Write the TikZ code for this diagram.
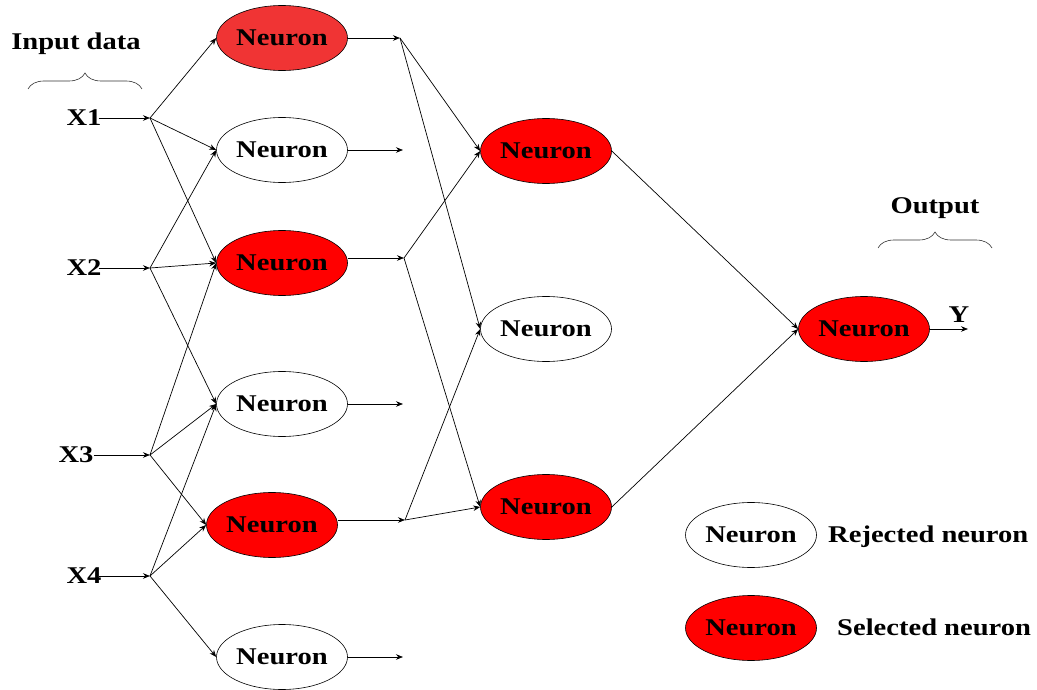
\documentclass[tikz,border=0pt]{standalone}
\usepackage{fontspec}
\setmainfont{Liberation Serif}[FakeStretch=1.19]
\usetikzlibrary{shapes.geometric,arrows.meta,decorations.pathreplacing}
\definecolor{selred}{RGB}{255,0,0}
\definecolor{selredlight}{RGB}{240,52,52}
\tikzset{
  neuron/.style={ellipse, draw=black, line width=0.6pt, minimum width=131pt, minimum height=65pt, inner sep=0pt,
     font=\fontsize{24pt}{28pt}\selectfont\bfseries},
  rejected/.style={neuron, fill=white},
  selected/.style={neuron, fill=selred},
  lbl/.style={inner sep=0pt, font=\fontsize{24pt}{28pt}\selectfont\bfseries},
  conn/.style={line width=0.7pt, -{Stealth[length=7pt,width=5.5pt]}},
  bracestyle/.style={line width=0.6pt, draw=black!80, decorate, decoration={brace, amplitude=16pt}}
}
\begin{document}
\begin{tikzpicture}[x=1pt,y=-1pt]
\useasboundingbox (0,0) rectangle (1037,690);
% inputs
\node[lbl] (X1) at (84,118) {X1};
\node[lbl] (X2) at (84,268) {X2};
\node[lbl] (X3) at (76,455) {X3};
\node[lbl] (X4) at (84,576) {X4};
\coordinate (J1) at (150,118);
\coordinate (J2) at (150,268);
\coordinate (J3) at (150,455);
\coordinate (J4) at (150,576);
\node[lbl] (inlbl) at (76,44) {Input data};
\coordinate (ib1) at (28,89);
\coordinate (ib2) at (142,89);
\draw[bracestyle] (ib1) -- (ib2);
% hidden layer 1
\node[neuron, fill=selredlight] (N1) at (282,38) {Neuron};
\node[rejected] (N2) at (282,150) {Neuron};
\node[selected] (N3) at (282,263) {Neuron};
\node[rejected] (N4) at (282,404) {Neuron};
\node[selected] (N5) at (272,525) {Neuron};
\node[rejected] (N6) at (282,657) {Neuron};
% hidden layer 2
\node[selected] (M1) at (546,151) {Neuron};
\node[rejected] (M2) at (546,329) {Neuron};
\node[selected] (M3) at (546,507) {Neuron};
% output
\node[selected] (O) at (864,329) {Neuron};
\coordinate (Yend) at (968,329);
\node[lbl] (Y) at (959,315) {Y};
\node[lbl] (outlbl) at (935,208) {Output};
\coordinate (ob1) at (878,248);
\coordinate (ob2) at (992,248);
\draw[bracestyle] (ob1) -- (ob2);
% legend
\node[rejected] (L1) at (751,535) {Neuron};
\node[lbl, anchor=west] (L1t) at (828,537) {Rejected neuron};
\node[selected] (L2) at (751,628) {Neuron};
\node[lbl, anchor=west] (L2t) at (837,627) {Selected neuron};
% junctions after layer 1
\coordinate (K1) at (400,38);
\coordinate (K2) at (403,150);
\coordinate (K3) at (404,258);
\coordinate (K4) at (403,404);
\coordinate (K5) at (405,520);
\coordinate (K6) at (403,657);
% input arrows
\draw[conn] ([xshift=-3pt]X1.east) -- (J1);
\draw[conn] ([xshift=-3pt]X2.east) -- (J2);
\draw[conn] (X3.east) -- (J3);
\draw[conn] ([xshift=-3pt]X4.east) -- (J4);
% input to layer 1
\draw[conn] (J1) -- (N1.west);
\draw[conn] (J1) -- (N2.west);
\draw[conn] (J1) -- (N3.west);
\draw[conn] (J2) -- (N2.west);
\draw[conn] (J2) -- (N3.west);
\draw[conn] (J2) -- (N4.west);
\draw[conn] (J3) -- (N3.west);
\draw[conn] (J3) -- (N4.west);
\draw[conn] (J3) -- (N5.west);
\draw[conn] (J4) -- (N4.west);
\draw[conn] (J4) -- (N5.west);
\draw[conn] (J4) -- (N6.west);
% layer 1 outputs
\draw[conn] (N1.east) -- (K1);
\draw[conn] (N2.east) -- (K2);
\draw[conn] (N3.east |- K3) -- (K3);
\draw[conn] (N4.east) -- (K4);
\draw[conn] (N5.east |- K5) -- (K5);
\draw[conn] (N6.east) -- (K6);
% to layer 2
\draw[conn] (K1) -- (M1.west);
\draw[conn] (K1) -- (M2.west);
\draw[conn] (K3) -- (M1.west);
\draw[conn] (K3) -- (M3.west);
\draw[conn] (K5) -- (M2.west);
\draw[conn] (K5) -- (M3.west);
% to output
\draw[conn] (M1.east) -- (O.west);
\draw[conn] (M3.east) -- (O.west);
\draw[conn] (O.east) -- (Yend);
\end{tikzpicture}
\end{document}
